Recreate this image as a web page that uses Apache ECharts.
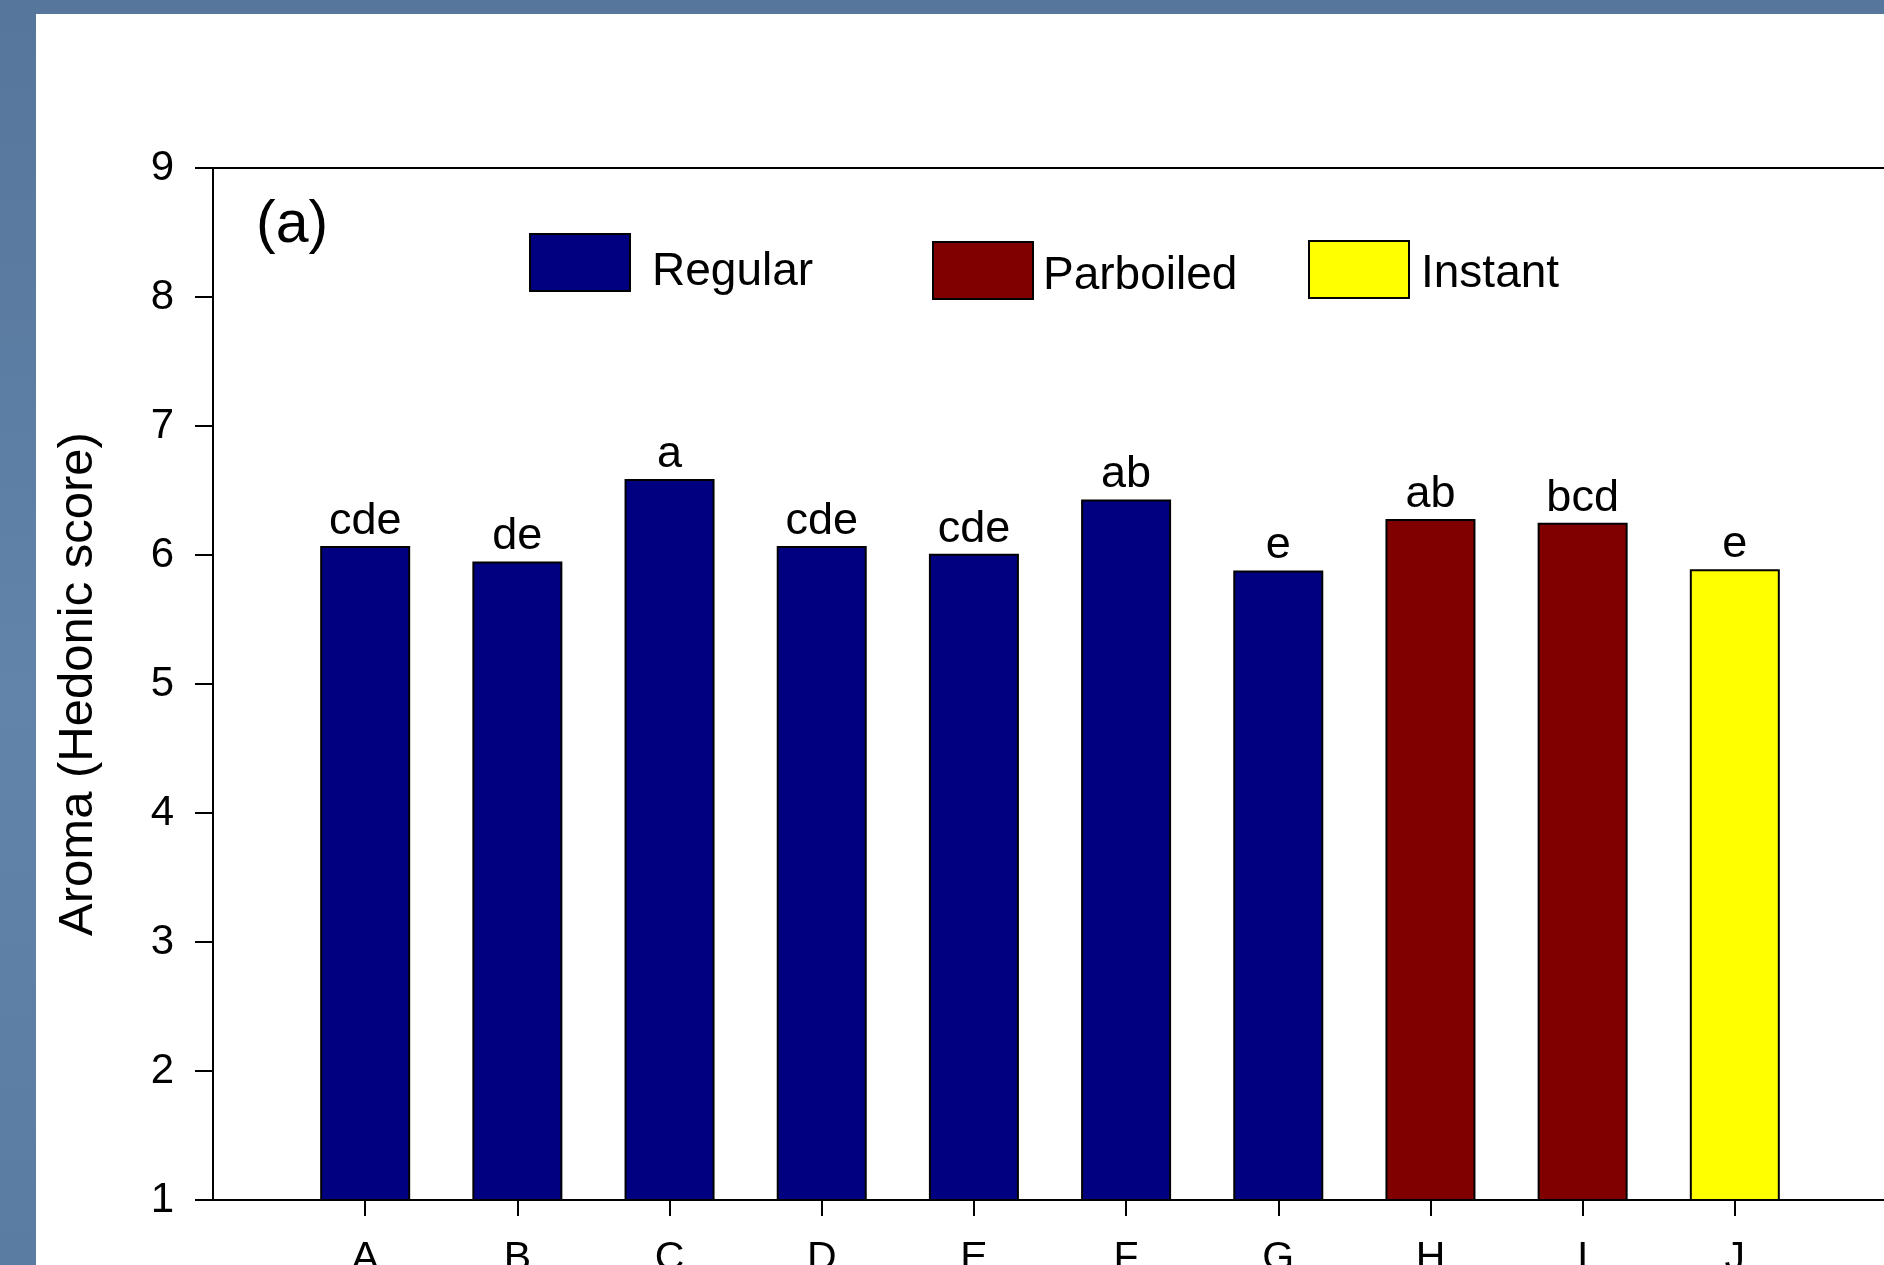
<!DOCTYPE html>
<html>
<head>
<meta charset="utf-8">
<script src="https://cdn.jsdelivr.net/npm/echarts@6/dist/echarts.min.js"></script>
<style>
  html, body { margin: 0; padding: 0; background: #5a7ba0; }
  #chart { width: 1884px; height: 1265px; }
</style>
</head>
<body>
<div id="chart"></div>
<script>
// Rice samples A–J and their mean aroma hedonic scores
const categories = ['A', 'B', 'C', 'D', 'E', 'F', 'G', 'H', 'I', 'J'];
const aromaScores = [6.07, 5.95, 6.59, 6.07, 6.01, 6.43, 5.88, 6.28, 6.25, 5.89];
const riceTypes = ['Regular', 'Regular', 'Regular', 'Regular', 'Regular', 'Regular', 'Regular',
                   'Parboiled', 'Parboiled', 'Instant'];
// Significance groups printed above each bar
const groupLetters = ['cde', 'de', 'a', 'cde', 'cde', 'ab', 'e', 'ab', 'bcd', 'e'];
const typeNames = ['Regular', 'Parboiled', 'Instant'];
const typeColors = { Regular: '#000080', Parboiled: '#800000', Instant: '#ffff00' };

const FONT = "'Liberation Sans', Arial, Helvetica, sans-serif";

// Category axis padded with an empty slot on each side so samples sit on whole-number ticks
const axisCategories = [''].concat(categories, ['']);

function seriesData(type) {
  return [null].concat(aromaScores.map((v, i) => (riceTypes[i] === type ? v : null)), [null]);
}

// Legend boxes: position, text line height (pushes the label down) and left gap
const legendBoxes = [
  { left: 529, top: 233, lh: 66, gap: 17 },
  { left: 932, top: 241, lh: 58, gap: 5 },
  { left: 1308, top: 240, lh: 56, gap: 7 }
];

const chart = echarts.init(document.getElementById('chart'), null, { renderer: 'canvas' });

chart.setOption({
  animation: false,
  backgroundColor: {
    type: 'linear', x: 0, y: 0, x2: 0, y2: 1,
    colorStops: [
      { offset: 0, color: '#56769b' },
      { offset: 0.55, color: '#6283aa' },
      { offset: 1, color: '#5b7ca2' }
    ]
  },
  graphic: [{
    type: 'rect', z: -10, silent: true,
    shape: { x: 36, y: 14, width: 1860, height: 1260 },
    style: { fill: '#ffffff' }
  }],
  title: {
    text: '(a)', left: 256, top: 196, padding: 0,
    textStyle: { fontFamily: FONT, fontSize: 59, fontWeight: 'normal', color: '#000' }
  },
  legend: typeNames.map((name, k) => ({
    data: [name],
    left: legendBoxes[k].left,
    top: legendBoxes[k].top,
    padding: 0,
    icon: 'rect',
    itemWidth: 100,
    itemHeight: 57,
    selectedMode: false,
    itemStyle: { borderColor: '#000', borderWidth: 2 },
    formatter: '{t|{name}}',
    textStyle: {
      fontFamily: FONT, fontSize: 46, color: '#000',
      rich: {
        t: {
          fontFamily: FONT, fontSize: 46, color: '#000',
          lineHeight: legendBoxes[k].lh,
          verticalAlign: 'bottom',
          padding: [0, 0, 0, legendBoxes[k].gap]
        }
      }
    }
  })),
  grid: { left: 213, top: 168, right: -3, bottom: 65, containLabel: false, outerBoundsMode: 'none' },
  xAxis: [{
    type: 'category',
    data: axisCategories,
    boundaryGap: false,
    position: 'bottom',
    axisLine: { show: true, lineStyle: { color: '#000', width: 2 } },
    axisTick: {
      show: true, length: 16, inside: false,
      interval: (i) => i > 0 && i <= categories.length,
      lineStyle: { color: '#000', width: 2 }
    },
    axisLabel: { interval: 0, margin: 38, fontFamily: FONT, fontSize: 41, color: '#000' },
    splitLine: { show: false }
  }, {
    type: 'category',
    data: axisCategories,
    boundaryGap: false,
    position: 'top',
    axisLine: { show: true, lineStyle: { color: '#000', width: 2 } },
    axisTick: { show: false },
    axisLabel: { show: false },
    splitLine: { show: false }
  }],
  yAxis: {
    type: 'value',
    min: 1, max: 9, interval: 1,
    name: 'Aroma (Hedonic score)',
    nameLocation: 'middle',
    nameGap: 110,
    nameTextStyle: { fontFamily: FONT, fontSize: 49, color: '#000' },
    axisLine: { show: true, lineStyle: { color: '#000', width: 2 } },
    axisTick: { show: true, length: 18, inside: false, lineStyle: { color: '#000', width: 2 } },
    axisLabel: { margin: 39, fontFamily: FONT, fontSize: 42, color: '#000' },
    splitLine: { show: false }
  },
  series: typeNames.map((name) => ({
    name: name,
    type: 'bar',
    xAxisIndex: 0,
    barWidth: 90,
    barGap: '-100%',
    data: seriesData(name),
    itemStyle: { color: typeColors[name], borderColor: '#000', borderWidth: 2 },
    emphasis: { disabled: true },
    label: {
      show: true,
      position: 'top',
      distance: 2,
      fontFamily: FONT,
      fontSize: 45,
      color: '#000',
      formatter: (p) => groupLetters[p.dataIndex - 1]
    }
  }))
});
</script>
</body>
</html>
